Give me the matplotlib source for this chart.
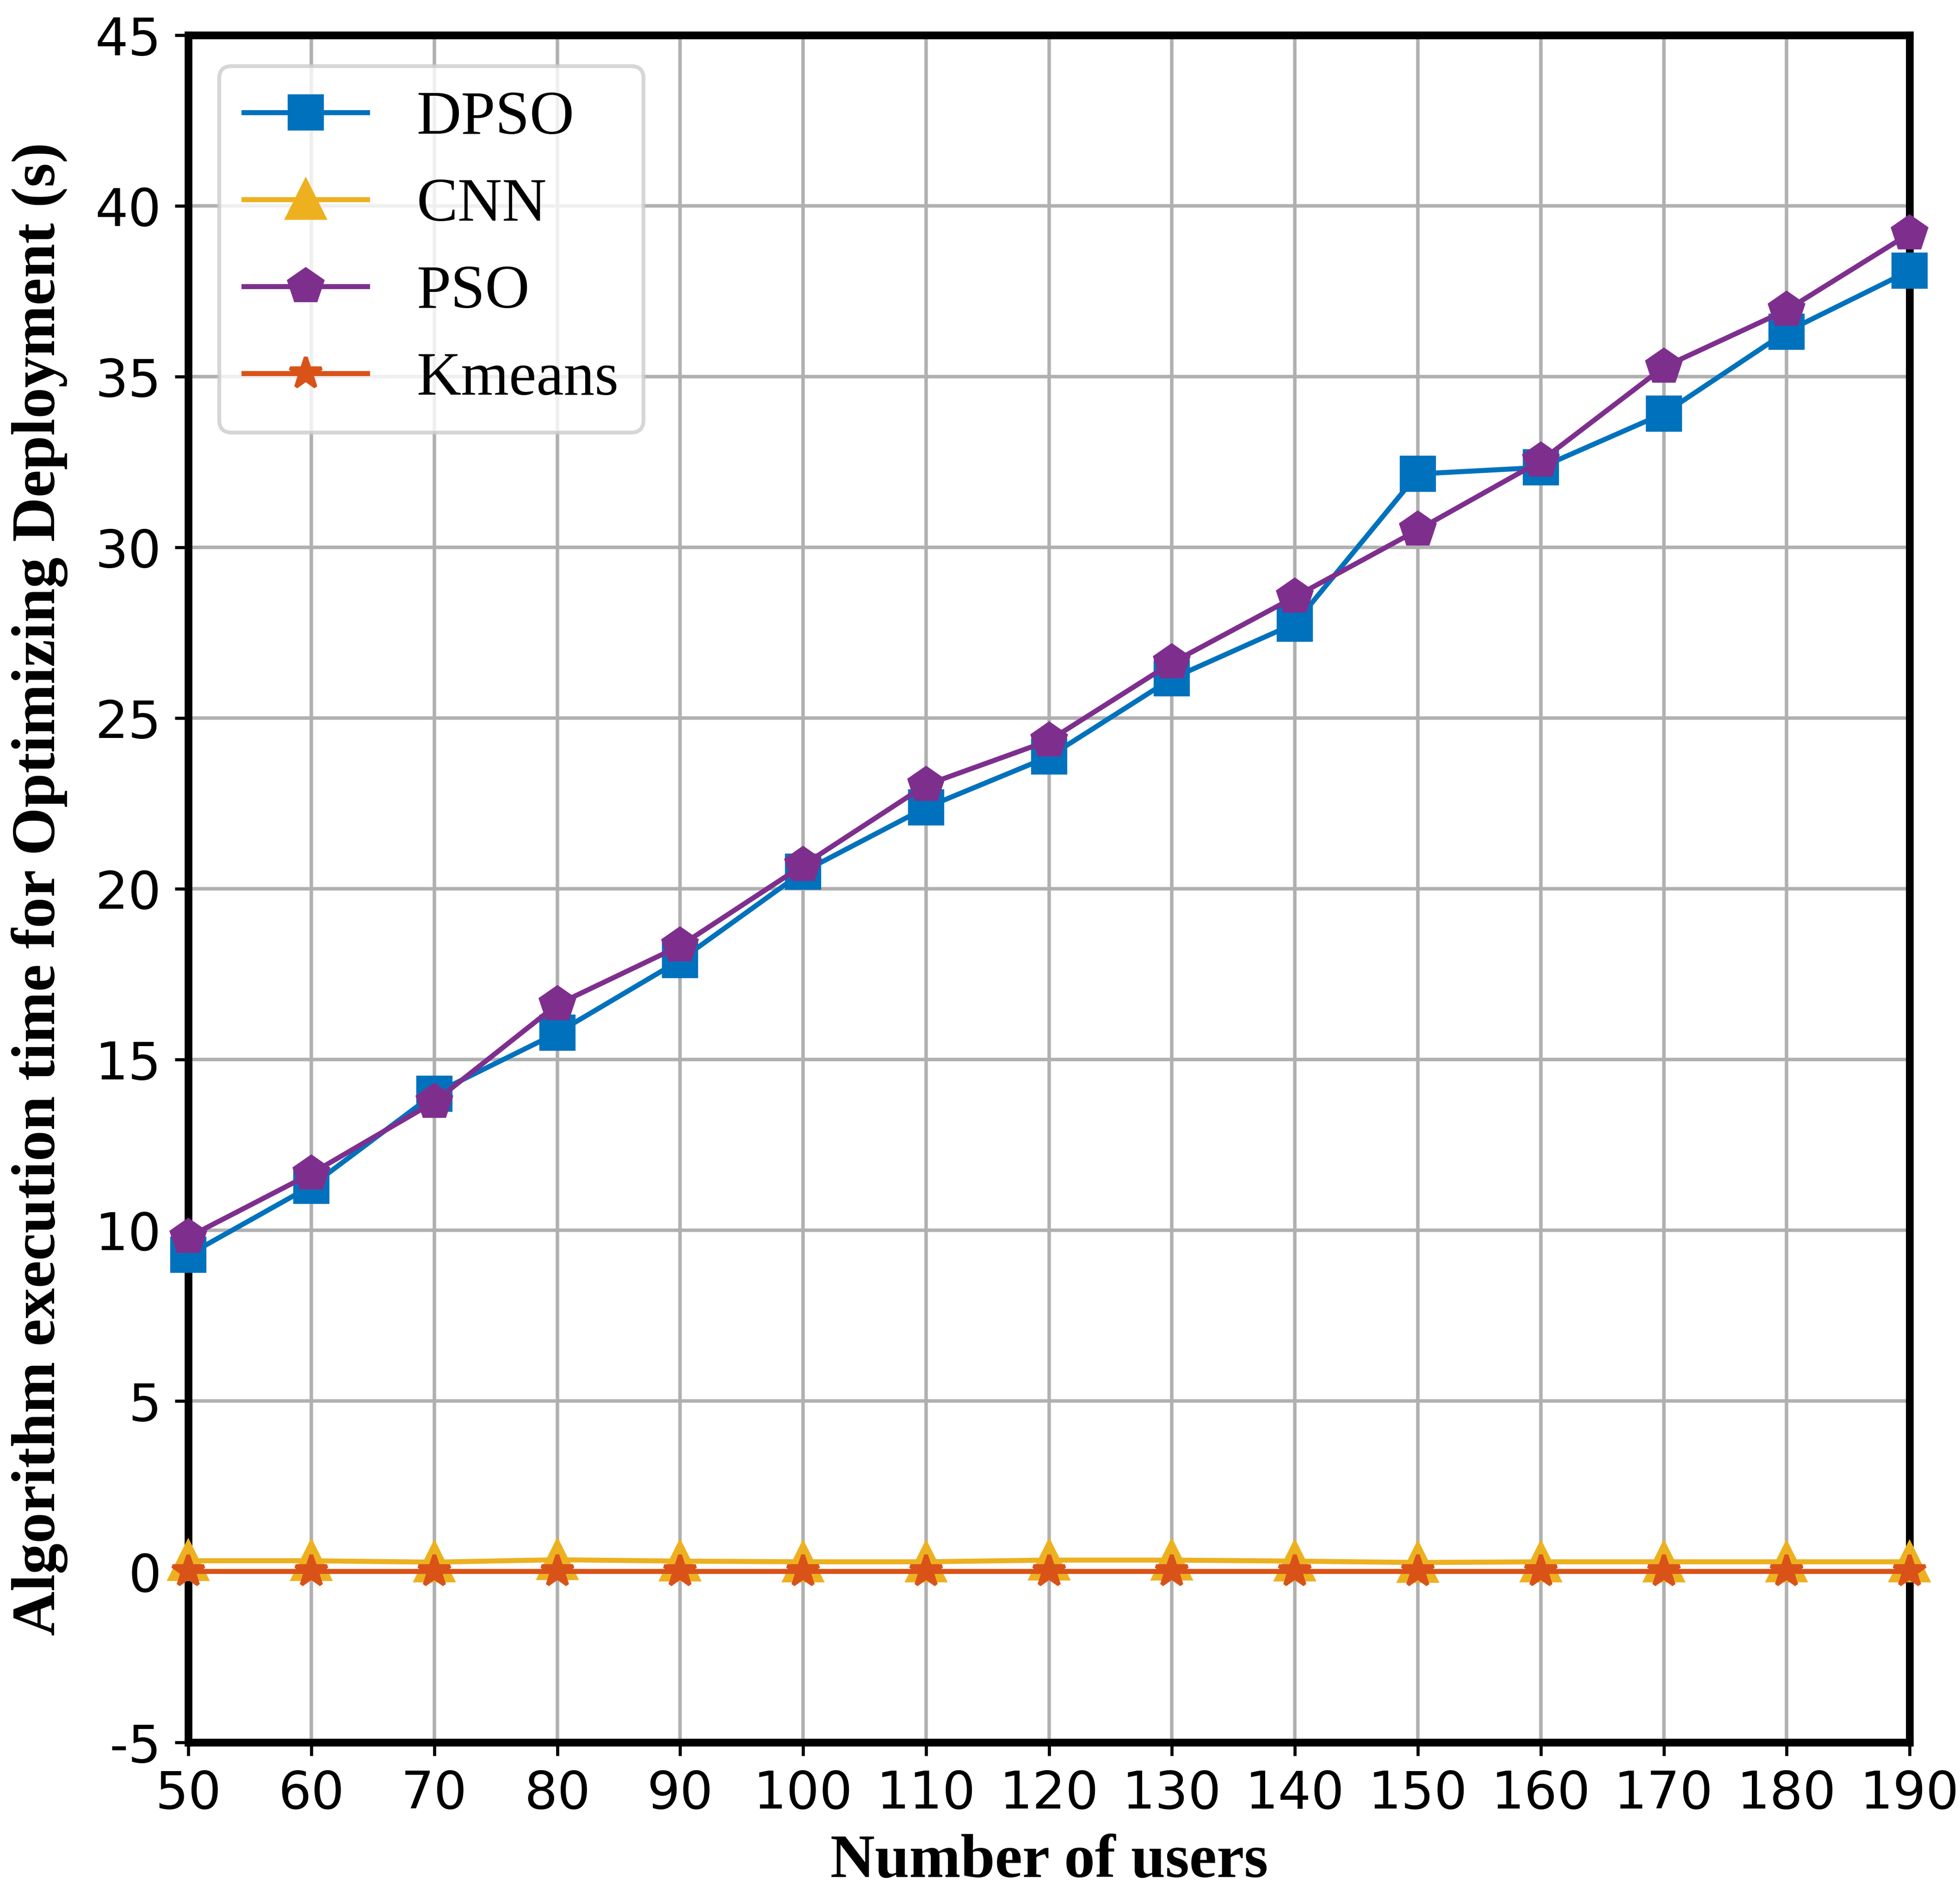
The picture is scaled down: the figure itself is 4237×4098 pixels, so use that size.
import matplotlib
matplotlib.use("Agg")
import matplotlib.pyplot as plt

users = [50, 60, 70, 80, 90, 100, 110, 120, 130, 140, 150, 160, 170, 180, 190]
dpso = [9.28, 11.30, 14.00, 15.78, 17.91, 20.50, 22.38, 23.87, 26.16, 27.77, 32.15, 32.34, 33.92, 36.32, 38.10]
cnn = [0.32, 0.32, 0.28, 0.35, 0.31, 0.29, 0.29, 0.34, 0.34, 0.31, 0.27, 0.29, 0.29, 0.29, 0.29]
pso = [9.80, 11.66, 13.76, 16.61, 18.33, 20.69, 23.04, 24.34, 26.62, 28.55, 30.51, 32.53, 35.28, 36.95, 39.19]
kmeans = [0.01] * 15

yticks = [-5, 0, 5, 10, 15, 20, 25, 30, 35, 40, 45]
ytick_labels = ["-5", "0", "5", "10", "15", "20", "25", "30", "35", "40", "45"]

fig = plt.figure(figsize=(4237 / 600, 4098 / 600), dpi=600)
ax = fig.add_axes([0.0961, 0.0810, 0.9743 - 0.0961, 0.98145 - 0.0810])

lw = 1.3
ms = 8.5
ax.plot(users, dpso, color="#0072BD", marker="s", lw=lw, ms=ms, label="DPSO", clip_on=False, zorder=3)
ax.plot(users, cnn, color="#EDB120", marker="^", lw=lw, ms=ms + 1, label="CNN", clip_on=False, zorder=3)
ax.plot(users, pso, color="#7E2F8E", marker="p", lw=lw, ms=ms + 0.5, label="PSO", clip_on=False, zorder=4)
ax.plot(users, kmeans, color="#D95319", marker="*", lw=lw, ms=ms, label="Kmeans", clip_on=False, zorder=4)

ax.set_xlim(50, 190)
ax.set_ylim(-5, 45)
ax.set_xticks(users)
ax.set_xticklabels([str(u) for u in users])
ax.set_yticks(yticks)
ax.set_yticklabels(ytick_labels)
ax.tick_params(labelsize=13.5)
ax.grid(True, color="#b0b0b0", linewidth=0.9)
for s in ax.spines.values():
    s.set_linewidth(2)

ax.set_xlabel("Number of users", fontsize=16, fontweight="bold", family="Liberation Serif", labelpad=3.8)
ax.set_ylabel("Algorithm execution time for Optimizing Deployment (s)", fontsize=16,
              fontweight="bold", family="Liberation Serif", labelpad=7)

ax.legend(loc="upper left", prop={"family": "Liberation Serif", "size": 16})

fig.savefig("out.png", dpi=600)
